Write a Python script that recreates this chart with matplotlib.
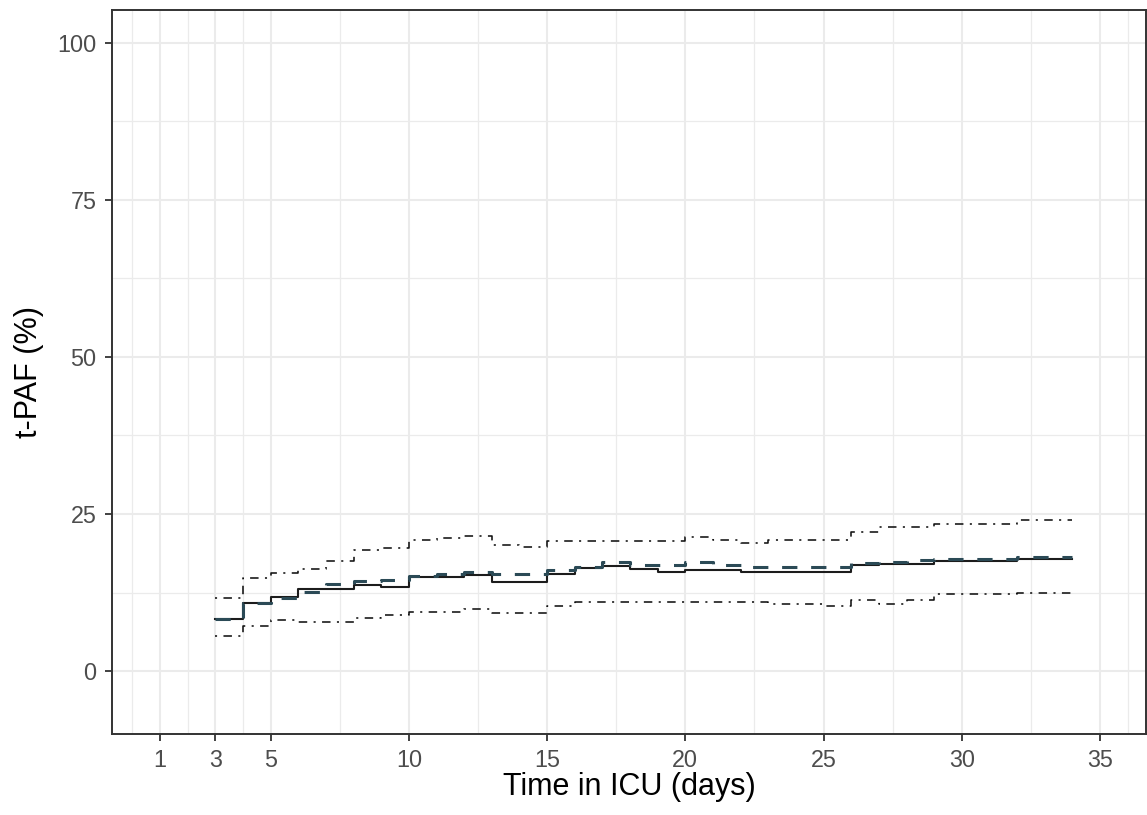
import matplotlib
matplotlib.use("Agg")
import matplotlib.pyplot as plt

# ---- data ----
est_days = [3, 4, 5, 6, 8, 9, 10, 12, 13, 15, 16, 17, 18, 19, 20, 22, 26, 27, 29, 32, 34]
est_vals = [8.3, 10.8, 11.8, 13.0, 13.7, 13.4, 14.9, 15.3, 14.1, 15.5, 16.4, 16.7, 16.3, 15.7,
            16.1, 15.7, 16.8, 17.1, 17.5, 17.8, 17.8]

alt_days = [3, 4, 5, 6, 7, 8, 9, 10, 11, 12, 13, 14, 15, 16, 17, 18, 19, 20, 21, 22, 26, 27,
            28, 29, 32, 34]
alt_vals = [8.3, 10.8, 11.6, 12.6, 13.8, 14.3, 14.5, 15.2, 15.5, 15.8, 15.5, 15.4, 16.1, 16.6,
            17.3, 16.8, 16.9, 17.3, 16.9, 16.5, 17.2, 17.4, 17.6, 17.8, 18.2, 18.2]

upper_days = [3, 4, 5, 6, 7, 8, 9, 10, 11, 12, 13, 14, 15, 20, 21, 22, 23, 26, 27, 29, 32, 34]
upper_vals = [11.6, 14.8, 15.6, 16.2, 17.5, 19.3, 19.6, 20.9, 21.2, 21.5, 20.0, 19.7, 20.75,
              21.3, 20.9, 20.4, 20.8, 22.2, 22.9, 23.4, 24.0, 24.0]

lower_days = [3, 4, 5, 6, 8, 9, 10, 12, 13, 15, 16, 23, 25, 26, 27, 28, 29, 32, 34]
lower_vals = [5.5, 7.2, 8.1, 7.8, 8.4, 8.9, 9.45, 9.9, 9.2, 10.35, 11.0, 10.6, 10.35, 11.3,
              10.6, 11.3, 12.2, 12.5, 11.9]

x_ticks = [1, 3, 5, 10, 15, 20, 25, 30, 35]
x_minor = [0, 2, 4, 7.5, 12.5, 17.5, 22.5, 27.5, 32.5, 36]
y_ticks = [0, 25, 50, 75, 100]
y_minor = [12.5, 37.5, 62.5, 87.5]

x_label = "Time in ICU (days)"
y_label = "t-PAF (%)"

# ---- figure ----
plt.rcParams['font.family'] = ['Liberation Sans', 'DejaVu Sans']
fig = plt.figure(figsize=(11.47, 8.15), dpi=100)
ax = fig.add_axes([112 / 1147, 1 - 734 / 815, (1146 - 112) / 1147, (734 - 10) / 815])

grid_c = '#EBEBEB'
for v in x_minor:
    ax.axvline(v, color=grid_c, lw=0.9, zorder=0)
for v in y_minor:
    ax.axhline(v, color=grid_c, lw=0.9, zorder=0)
for v in x_ticks:
    ax.axvline(v, color=grid_c, lw=1.5, zorder=0)
for v in y_ticks:
    ax.axhline(v, color=grid_c, lw=1.5, zorder=0)

dotdash = (0, (1.3, 4.0, 5.3, 4.0))
ax.step(upper_days, upper_vals, where='post', color='#111111', lw=1.15, linestyle=dotdash, zorder=3)
ax.step(lower_days, lower_vals, where='post', color='#111111', lw=1.15, linestyle=dotdash, zorder=3)
ax.step(est_days, est_vals, where='post', color='#1c1c1c', lw=1.5, zorder=4)
ax.step(alt_days, alt_vals, where='post', color='#2b4a56', lw=2.2, linestyle=(0, (5, 4.5)),
        zorder=5)

ax.set_xlim(-0.736, 36.66)
ax.set_ylim(-10.03, 105.25)
ax.set_xticks(x_ticks)
ax.set_yticks(y_ticks)
ax.tick_params(axis='both', colors='#333333', width=1.3, length=5,
               labelsize=16.8, labelcolor='#4D4D4D', pad=6)

for s in ax.spines.values():
    s.set_color('#333333')
    s.set_linewidth(1.4)

ax.set_xlabel(x_label, fontsize=22, color='black', labelpad=0)
ax.set_ylabel(y_label, fontsize=22, color='black', labelpad=10)

fig.savefig('out.png', dpi=100)
